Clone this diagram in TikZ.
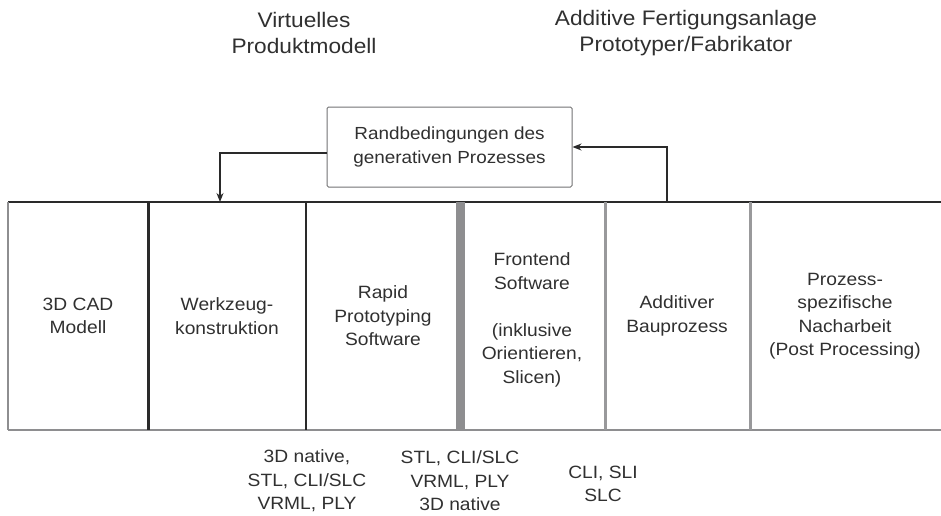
\documentclass[tikz,border=0pt]{standalone}
\usepackage{fontspec}
\setmainfont[FakeStretch=1.08]{Liberation Sans}
\usetikzlibrary{arrows.meta}
\definecolor{ink}{HTML}{303030}
\definecolor{darkline}{HTML}{2A2A2A}
\definecolor{greyline}{HTML}{8E8E90}
\tikzset{
  lbl/.style={align=center, text=ink, font=\fontsize{17.8}{23.5}\selectfont, inner sep=0pt},
  head/.style={align=center, text=ink, font=\fontsize{21}{25.5}\selectfont, inner sep=0pt},
  cbox/.style={draw=greyline!80!black, line width=1pt, rounded corners=1.5pt, minimum width=245pt, minimum height=80pt, align=center, text=ink, font=\fontsize{17.5}{24}\selectfont},
  conn/.style={draw=darkline, line width=1.2pt, -{Stealth[length=9pt,width=7pt]}},
  thinrule/.style={line width=1.5pt, greyline},
}
\begin{document}
\begin{tikzpicture}[x=1pt,y=-1pt]
\useasboundingbox (0,0) rectangle (941,515);
% headings
\node[head] (hv) at (304,33) {Virtuelles\\Produktmodell};
\node[head] (ha) at (686,33) {Additive Fertigungsanlage\\Prototyper/Fabrikator};
% process chain frame
\draw[line width=1.4pt, darkline] (8,202) -- (941,202);
\draw[line width=2pt, greyline] (8,430) -- (941,430);
\draw[thinrule] (8,202) -- (8,430);
\draw[line width=3pt, darkline] (148,202) -- (148,430);
\draw[line width=2.5pt, darkline] (306,202) -- (306,430);
\draw[line width=9pt, greyline] (460.5,202) -- (460.5,430);
\draw[line width=3pt, greyline!90] (605,202) -- (605,430);
\draw[line width=3pt, greyline!90] (750,202) -- (750,430);
% anchor points on the frame top
\coordinate (inA) at (220,202);
\coordinate (outB) at (667,202);
% column labels
\node[lbl] (c1) at (78,316) {3D CAD\\Modell};
\node[lbl] (c2) at (227,316) {Werkzeug-\\konstruktion};
\node[lbl] (c3) at (383,316) {Rapid\\Prototyping\\Software};
\node[lbl] (c4) at (532,320) {Frontend\\Software\\\mbox{}\\(inklusive\\Orientieren,\\Slicen)};
\node[lbl] (c5) at (677,316) {Additiver\\Bauprozess};
\node[lbl] (c6) at (845,316) {Prozess-\\spezifische\\Nacharbeit\\(Post Processing)};
% data formats between the steps
\node[lbl] (f1) at (307,481) {3D native,\\STL, CLI/SLC\\VRML, PLY};
\node[lbl] (f2) at (460,481) {STL, CLI/SLC\\VRML, PLY\\3D native};
\node[lbl] (f3) at (603,484) {CLI, SLI\\SLC};
% constraints box and feedback loop
\node[cbox] (rb) at (449.5,147) {Randbedingungen des\\generativen Prozesses};
\draw[conn] ([yshift=-6pt]rb.west) -| (inA);
\draw[conn] (outB) |- (rb.east);
\end{tikzpicture}
\end{document}
